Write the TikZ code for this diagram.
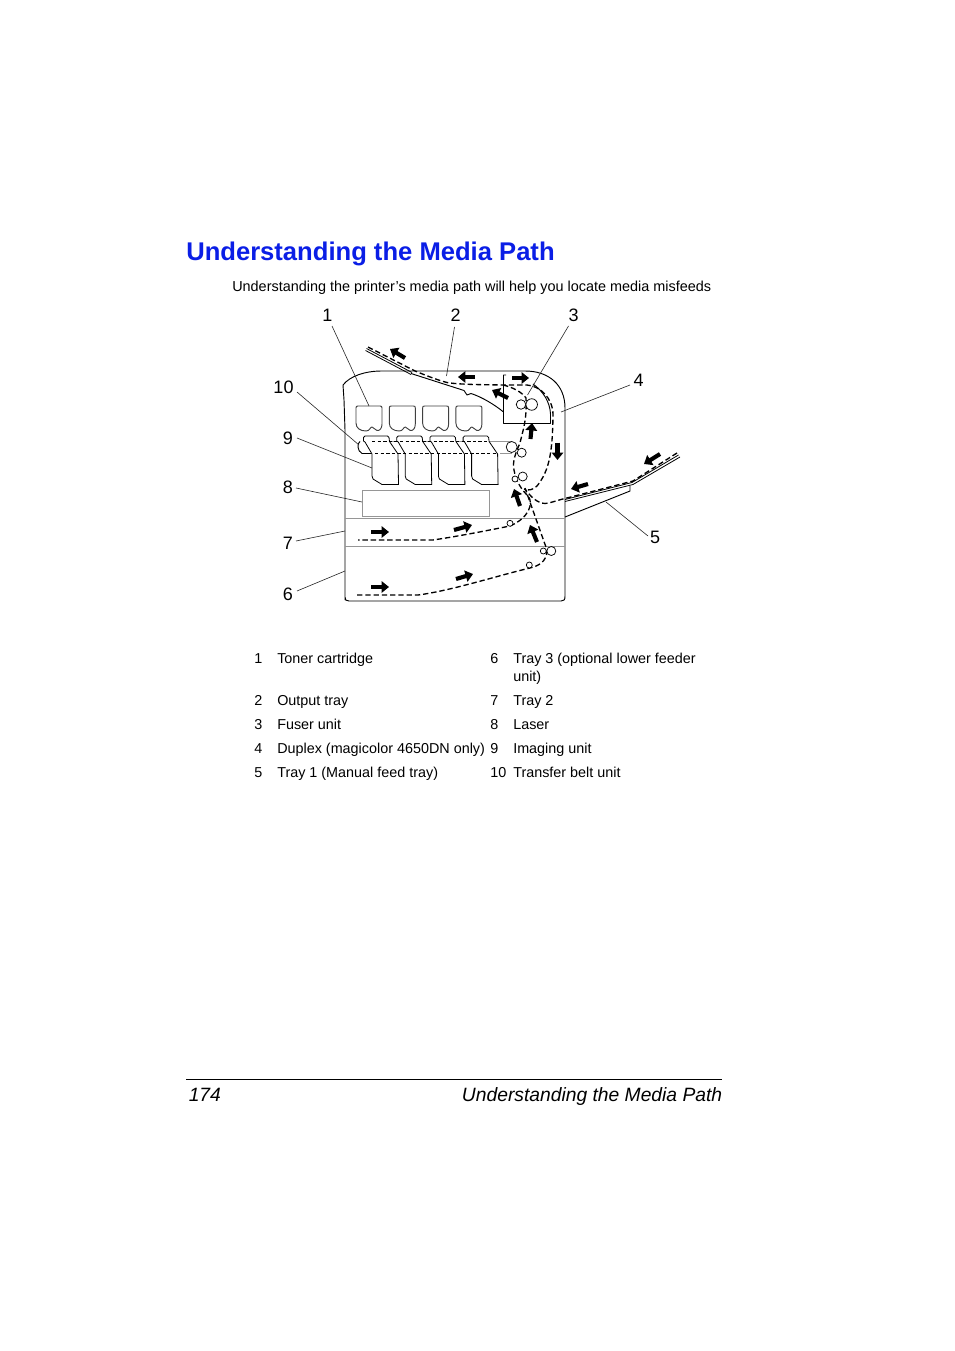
\documentclass[tikz,border=0pt]{standalone}
\usepackage{fontspec}
\setmainfont{Liberation Sans}
\usetikzlibrary{arrows.meta}
\definecolor{titleblue}{RGB}{10,30,230}
\definecolor{soft}{RGB}{150,150,150}
\tikzset{
  x=0.75pt,y=-0.75pt,
  body/.style={draw=black,line width=0.7pt,line join=round},
  grayline/.style={draw=soft,line width=0.7pt},
  thin leader/.style={draw=black!85,line width=0.45pt},
  paper/.style={draw=black,line width=1pt,dash pattern=on 4pt off 2.2pt},
  beltdash/.style={draw=black,line width=0.7pt,dash pattern=on 2.6pt off 1.6pt},
  flow/.style={draw=black,line width=3.1pt,-{Triangle[length=5.6pt,width=8.6pt]}},
  roller/.style={draw=black,line width=0.55pt,fill=white,circle,inner sep=0pt},
  num/.style={font=\fontsize{13.5}{15}\selectfont,inner sep=0pt},
  txt/.style={font=\fontsize{10.78}{13}\selectfont,anchor=base west,inner sep=0pt},
}
\begin{document}
\begin{tikzpicture}
\useasboundingbox[fill=white] (0,0) rectangle (954,1351);
% texts
\node[font=\bfseries\fontsize{19.2}{23}\selectfont,text=titleblue,anchor=base west,inner sep=0pt] (title) at (186,261) {Understanding the Media Path};
\node[txt,font=\fontsize{10.82}{13}\selectfont] (intro) at (232,292) {Understanding the printer’s media path will help you locate media misfeeds};
% casing
\draw[body] (345,600) -- (345,430) -- (344,400) -- (343,385) .. controls (350,376) and (365,371) .. (382,371) -- (525,371) .. controls (549,371) and (565,385) .. (565,408) -- (565,596) .. controls (565,600) and (564,601) .. (561,601) -- (349,601) .. controls (346,601) and (345,600) .. (345,597);
\draw[grayline] (345,518) -- (565,518);
\draw[grayline] (345,546) -- (565,546);
\draw[grayline] (362,490) rectangle (489,516);
% toner
\foreach \dx in {0,33.3,66.6,99.9}{
  \begin{scope}[xshift=\dx*0.75pt]
  \draw[draw=black!75,line width=0.7pt,line join=round] (356,408) .. controls (356,406.5) and (356.5,406) .. (358,406) -- (380,406) .. controls (381.5,406) and (382,406.5) .. (382,408) -- (382,424) .. controls (382,428) and (380,431) .. (377,430.5) .. controls (375,430.5) and (374,427) .. (372,427) .. controls (370,427) and (370,431) .. (366,431) .. controls (360,431) and (356,428) .. (356,423) -- cycle;
  \end{scope}
}
% belt
\draw[draw=soft,line width=0.7pt] (385,441) -- (512,441);
\draw[body] (360,441.5) .. controls (357,443) and (357,451) .. (362,453.5) -- (372,453.5);
\draw[draw=soft,line width=0.7pt] (500,453.5) -- (512,453.5);
% imaging units
\foreach \dx in {0,33.2,66.4,99.6}{
  \begin{scope}[xshift=\dx*0.75pt]
  \draw[body,line width=0.6pt,fill=white] (363.5,441) -- (363.5,437.5) .. controls (363.5,436.5) and (364,436) .. (365,436) -- (387.5,436) .. controls (388.5,436) and (389,436.5) .. (389,437.5) -- (389.5,441.5) -- (398,454) -- (398.5,484.5) -- (382,484.5) -- (373,479) -- (372,476) -- (372,454) -- (365,442) -- cycle;
  \end{scope}
}
\draw[beltdash] (372,441) -- (489,441);
\draw[beltdash] (375,453.5) -- (497,453.5);
% fuser
\draw[body] (506,375) -- (503.5,375) -- (503.5,423.5) -- (550.5,423.5) -- (550.5,414) .. controls (550,402) and (543,391) .. (533,384);
% output tray
\draw[body,line width=0.6pt] (366.5,348.5) -- (412,372.5);
\draw[body,line width=0.6pt] (365.5,350.5) -- (411,374.5);
\draw[body] (411,373.5) -- (464,390.5) -- (467,395) -- (471,393.5) .. controls (482,397) and (495,405) .. (503.5,412);
% tray 1
\draw[body,line width=0.6pt] (678.5,455) -- (632,482.5) -- (565,499.5);
\draw[body,line width=0.6pt] (680,457) -- (633,484.5) -- (565,501.5);
\draw[body] (630,486) -- (630,491) -- (565,517);
% paper paths
\draw[paper] (368,347) -- (415,371) .. controls (425,375) and (437,380) .. (447,382.5) .. controls (460,385) and (500,385) .. (527,385) .. controls (540,386) and (553,398) .. (553,415) .. controls (552.5,450) and (550,470) .. (537,486) .. controls (533,490) and (528,491) .. (524,489);
\draw[paper] (503,385) .. controls (512,387) and (522,392) .. (526,398) .. controls (527,420) and (523,430) .. (520,443) .. controls (516,452) and (512,462) .. (514,470) .. controls (516,482) and (522,490) .. (528,496) .. controls (534,503) and (529,518) .. (510,526) .. controls (490,530) and (460,536) .. (433,540) -- (358,540);
\draw[paper] (357,595) -- (418,595) .. controls (450,591) and (500,575) .. (530,568) .. controls (538,566) and (547,562) .. (547,550) -- (525,488);
\draw[paper] (677,453) -- (633,481) -- (565,498.5) .. controls (558,500) and (549,503.5) .. (545,503.5) .. controls (537,503) and (531,497) .. (525,489);
% rollers
\node[roller,minimum size=9.5pt*0.75] (r1) at (521,404.5) {};
\node[roller,minimum size=11.5pt*0.75] (r2) at (531.7,404.5) {};
\node[roller,minimum size=11pt*0.75] (r3) at (511.7,447) {};
\node[roller,minimum size=9pt*0.75] (r4) at (521.7,452.7) {};
\node[roller,minimum size=6pt*0.75] (r5) at (515,479) {};
\node[roller,minimum size=9pt*0.75] (r6) at (522.7,476.5) {};
\node[roller,minimum size=6pt*0.75] (r7) at (510,523.3) {};
\node[roller,minimum size=6pt*0.75] (r8) at (529.3,565) {};
\node[roller,minimum size=6pt*0.75] (r9) at (543.3,551) {};
\node[roller,minimum size=9pt*0.75] (r10) at (551.3,551) {};
% flow arrows
\draw[flow] (405,358) -- (390,349);
\draw[flow] (475,377) -- (458,377);
\draw[flow] (508,398) -- (492,390);
\draw[flow] (512,378) -- (529,378);
\draw[flow] (530.5,439) -- (532,423);
\draw[flow] (557.5,442.5) -- (557.5,460);
\draw[flow] (520,506) -- (514,489);
\draw[flow] (537,542) -- (530,525);
\draw[flow] (371,532) -- (389,532);
\draw[flow] (454,530) -- (472,525);
\draw[flow] (371,587) -- (389,587);
\draw[flow] (456,579) -- (473,574);
\draw[flow] (660,454) -- (644,464);
\draw[flow] (588,484) -- (571,489);
% callouts
\node[num] (n1) at (327.5,315) {1};
\node[num] (n2) at (455.5,315) {2};
\node[num] (n3) at (573.5,315) {3};
\node[num] (n4) at (638.5,380) {4};
\node[num] (n5) at (655,537) {5};
\node[num] (n6) at (288,594) {6};
\node[num] (n7) at (288,543) {7};
\node[num] (n8) at (288,487) {8};
\node[num] (n9) at (288,438) {9};
\node[num] (n10) at (283.5,387) {10};
\coordinate (a1) at (332,326); \coordinate (b1) at (369,406);
\coordinate (a2) at (454.5,327); \coordinate (b2) at (446.5,376);
\coordinate (a3) at (568.5,326); \coordinate (b3) at (527.5,395);
\coordinate (a4) at (630,385); \coordinate (b4) at (561,412);
\coordinate (a5) at (648,536); \coordinate (b5) at (606,502);
\coordinate (a6) at (297,591); \coordinate (b6) at (345,571);
\coordinate (a7) at (296,541); \coordinate (b7) at (345,531);
\coordinate (a8) at (296,488); \coordinate (b8) at (362,502);
\coordinate (a9) at (297,438); \coordinate (b9) at (372,468);
\coordinate (a10) at (297,392); \coordinate (b10) at (359,445);
\foreach \i in {1,...,10}{\draw[thin leader] (a\i) -- (b\i);}
% legend
\node[txt] (l1n) at (254,663) {1};
\node[txt] (l1t) at (277,663) {Toner cartridge};
\node[txt] (l2n) at (254,705) {2};
\node[txt] (l2t) at (277,705) {Output tray};
\node[txt] (l3n) at (254,729) {3};
\node[txt] (l3t) at (277,729) {Fuser unit};
\node[txt] (l4n) at (254,753) {4};
\node[txt] (l4t) at (277,753) {Duplex (magicolor 4650DN only)};
\node[txt] (l5n) at (254,777) {5};
\node[txt] (l5t) at (277,777) {Tray 1 (Manual feed tray)};
\node[txt] (l6n) at (490,663) {6};
\node[txt] (l6t) at (513,663) {Tray 3 (optional lower feeder};
\node[txt] (l6u) at (513,681) {unit)};
\node[txt] (l7n) at (490,705) {7};
\node[txt] (l7t) at (513,705) {Tray 2};
\node[txt] (l8n) at (490,729) {8};
\node[txt] (l8t) at (513,729) {Laser};
\node[txt] (l9n) at (490,753) {9};
\node[txt] (l9t) at (513,753) {Imaging unit};
\node[txt] (l10n) at (490,777) {10};
\node[txt] (l10t) at (513,777) {Transfer belt unit};
% footer
\coordinate (fl) at (186,1079); \coordinate (fr) at (722,1079);
\draw[draw=black,line width=0.6pt] (fl) -- (fr);
\node[font=\itshape\fontsize{14.45}{17}\selectfont,anchor=base west,inner sep=0pt] (page) at (188.5,1101) {174};
\node[font=\itshape\fontsize{14.45}{17}\selectfont,anchor=base east,inner sep=0pt] (foot) at (722.5,1101) {Understanding the Media Path};
\end{tikzpicture}
\end{document}
